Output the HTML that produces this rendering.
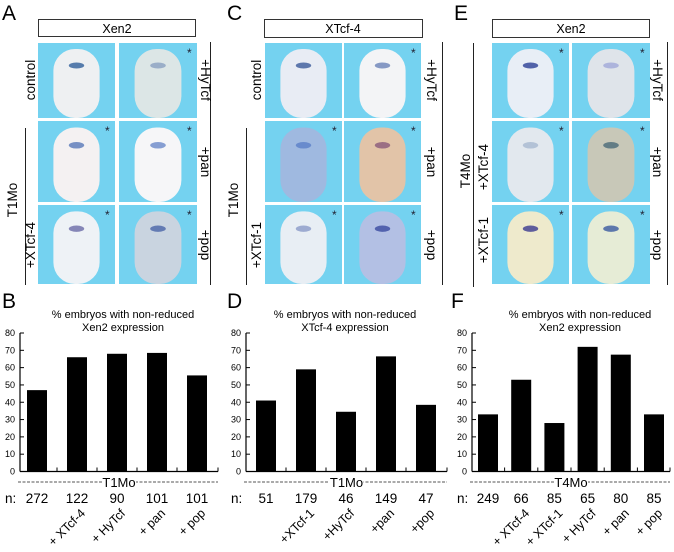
<!DOCTYPE html>
<html><head><meta charset="utf-8"><style>
html,body{margin:0;padding:0;background:#fff;}
svg{display:block;font-family:"Liberation Sans",sans-serif;}
</style></head><body>
<svg id="fig" width="674" height="552" viewBox="0 0 674 552" xmlns="http://www.w3.org/2000/svg">
<g id="photos"></g>
<g id="labels">
<text x="2" y="20" font-size="21">A</text>
<text x="227" y="20" font-size="21">C</text>
<text x="454" y="20" font-size="21">E</text>
<text x="2" y="308" font-size="21">B</text>
<text x="227" y="308" font-size="21">D</text>
<text x="451" y="308" font-size="21">F</text>

<rect x="38.5" y="19.5" width="157" height="17" fill="#fff" stroke="#333"/>
<text x="117" y="33" font-size="12.5" text-anchor="middle">Xen2</text>
<rect x="264.5" y="19.5" width="158" height="18" fill="#fff" stroke="#333"/>
<text x="343" y="33" font-size="12.5" text-anchor="middle">XTcf-4</text>
<rect x="492.5" y="19.5" width="157" height="18" fill="#fff" stroke="#333"/>
<text x="571" y="33" font-size="12.5" text-anchor="middle">Xen2</text>

<line x1="210.5" y1="42" x2="210.5" y2="285" stroke="#222"/>
<line x1="25.5" y1="128" x2="25.5" y2="285" stroke="#222"/>
<line x1="442.5" y1="42" x2="442.5" y2="285" stroke="#222"/>
<line x1="246.5" y1="128" x2="246.5" y2="285" stroke="#222"/>
<line x1="667.5" y1="42" x2="667.5" y2="285" stroke="#222"/>
<line x1="473.5" y1="43" x2="473.5" y2="287" stroke="#222"/>
</g>
<g id="rot" font-size="13.5"></g>
<g id="charts"></g>
</svg>
<script>
const NS='http://www.w3.org/2000/svg';
function mk(tag,attrs,parent,txt){const e=document.createElementNS(NS,tag);for(const k in attrs)e.setAttribute(k,attrs[k]);if(txt!==undefined)e.textContent=txt;parent.appendChild(e);return e;}

// ---------- photo panels ----------
const photos=document.getElementById('photos');
const cols=[[38,115],[119,197],[265,342],[344,421],[492,569],[572,650]];
const rows=[[43,118],[121,202],[205,284]];
const tints=[
 ['#eef0f2','#dce6e6','#e8ecf4','#f3f4f6','#e8eef6','#dfe4ea'],
 ['#f4f1f2','#f6f6f8','#9fb9e0','#e2c4a8','#e2e8ee','#c8c8b8'],
 ['#eef2f6','#c9d4e0','#e8eef4','#b3c0e4','#eeeacc','#e6ecd6']];
const stains=[
 ['#2f5f9a','#8aa0c0','#3a5a9a','#6a82b8','#2a3f96','#a0a8d8'],
 ['#5878b8','#6a88c8','#5a80c8','#8a5a7a','#a8b8d0','#4a6a78'],
 ['#6a6aa8','#4a64a8','#8a9ac8','#3a4aa0','#3a3a90','#3a5aa0']];
for(let r=0;r<3;r++)for(let c=0;c<6;c++){
  const [x0,x1]=cols[c],[y0,y1]=rows[r];const w=x1-x0,h=y1-y0;
  const g=mk('g',{},photos);
  
  
  mk('rect',{x:x0,y:y0,width:w,height:h,fill:'#74d2f0'},g);
  mk('rect',{x:x0+w*0.2,y:y0+h*0.08,width:w*0.6,height:h*0.92,rx:w*0.28,fill:tints[r][c]},g);
  mk('ellipse',{cx:x0+w*0.5,cy:y0+h*0.3,rx:w*0.1,ry:h*0.04,fill:stains[r][c],opacity:0.8},g);
  if(!(r===0&&c%2===0&&c!==4))mk('text',{x:x1-10,y:y0+14,'font-size':12,fill:'#223'},g,'*');
}

// ---------- rotated row labels ----------
const rot=document.getElementById('rot');
function rl(x,y,ang,t,name){const e=mk('text',{x:0,y:0,transform:`translate(${x},${y}) rotate(${ang})`,'text-anchor':'middle'},rot,t);}
rl(35,80,-90,'control','label-control-a');
rl(17,200,-90,'T1Mo','label-t1mo-a');
rl(35,245,-90,'+XTcf-4','label-xtcf4-a');
rl(201,80,90,'+HyTcf','label-hytcf-a');
rl(201,162,90,'+pan','label-pan-a');
rl(201,245,90,'+pop','label-pop-a');
rl(261,80,-90,'control','label-control-c');
rl(238,200,-90,'T1Mo','label-t1mo-c');
rl(261,245,-90,'+XTcf-1','label-xtcf1-c');
rl(427,80,90,'+HyTcf','label-hytcf-c');
rl(427,162,90,'+pan','label-pan-c');
rl(427,245,90,'+pop','label-pop-c');
rl(470,171,-90,'T4Mo','label-t4mo-e');
rl(488,167,-90,'+XTcf-4','label-xtcf4-e');
rl(488,240,-90,'+XTcf-1','label-xtcf1-e');
rl(653,80,90,'+HyTcf','label-hytcf-e');
rl(653,162,90,'+pan','label-pan-e');
rl(653,245,90,'+pop','label-pop-e');

// ---------- chart data ----------
const catsB=['','+ XTcf-4','+ HyTcf','+ pan','+ pop'];
const valsB=[47,66,68,68.5,55.5];
const nB=['272','122','90','101','101'];
const catsD=['','+XTcf-1','+HyTcf','+pan','+pop'];
const valsD=[41,59,34.5,66.5,38.5];
const nD=['51','179','46','149','47'];
const catsF=['','+ XTcf-4','+ XTcf-1','+ HyTcf','+ pan','+ pop'];
const valsF=[33,53,28,72,67.5,33];
const nF=['249','66','85','65','80','85'];
const ticks=[0,10,20,30,40,50,60,70,80];
const geneB='Xen2',geneD='XTcf-4',geneF='Xen2';

const charts=document.getElementById('charts');
function chart(id,ax,axEnd,c0,step,cats,vals,ns,gene,mo,titleX){
  const g=mk('g',{},charts);
  
  
  const y0=471.5,yTop=333;
  const y=v=>y0-(v/80)*(y0-yTop);
  const x=i=>c0+i*step;
  const t1=mk('text',{x:titleX,y:318,'font-size':11,'text-anchor':'middle'},g,'% embryos with non-reduced');
  
  const t2=mk('text',{x:titleX,y:331,'font-size':11,'text-anchor':'middle'},g,gene+' expression');
  
  const ya=mk('line',{x1:ax,y1:yTop,x2:ax,y2:y0,stroke:'#000','stroke-width':1.2},g);
  
  const xa=mk('line',{x1:ax,y1:y0,x2:axEnd,y2:y0,stroke:'#000','stroke-width':1.2},g);
  
  ticks.forEach(t=>{
    mk('line',{x1:ax,y1:y(t),x2:ax+4,y2:y(t),stroke:'#000'},g);
    const tl=mk('text',{x:ax-5,y:y(t)+3,'font-size':9,'text-anchor':'end'},g,String(t));
    
  });
  for(let i=1;i<vals.length;i++){const tx=(x(i-1)+x(i))/2;mk('line',{x1:tx,y1:y0,x2:tx,y2:y0-4,stroke:'#000'},g);}
  mk('line',{x1:axEnd,y1:y0,x2:axEnd,y2:y0-4,stroke:'#000'},g);
  vals.forEach((v,i)=>{
    const b=mk('rect',{x:x(i)-10,y:y(v),width:20,height:y0-y(v),fill:'#000'},g);
    
    
    const n=mk('text',{x:x(i),y:503,'font-size':13.5,'text-anchor':'middle'},g,ns[i]);
    
    
    if(cats[i]){
      const c=mk('text',{x:0,y:0,transform:`translate(${x(i)+9},${514}) rotate(-45)`,'font-size':12.5,'text-anchor':'end'},g,cats[i]);
      
      
    }
  });
  const nl=mk('text',{x:ax-15,y:503,'font-size':13.5},g,'n:');
  
  const mid=(ax+axEnd)/2;
  mk('line',{x1:ax-2,y1:482,x2:axEnd,y2:482,stroke:'#555','stroke-dasharray':'3,1.5'},g);
  mk('rect',{x:mid-17,y:475,width:34,height:12,fill:'#fff'},g);
  const ml=mk('text',{x:mid,y:487,'font-size':13,'text-anchor':'middle'},g,mo);
  
}
chart('b',20,218,37,40,catsB,valsB,nB,geneB,'T1Mo',123);
chart('d',246,447,266,40,catsD,valsD,nD,geneD,'T1Mo',345);
chart('f',472,670,488,33.2,catsF,valsF,nF,geneF,'T4Mo',580);
</script>
</body></html>
